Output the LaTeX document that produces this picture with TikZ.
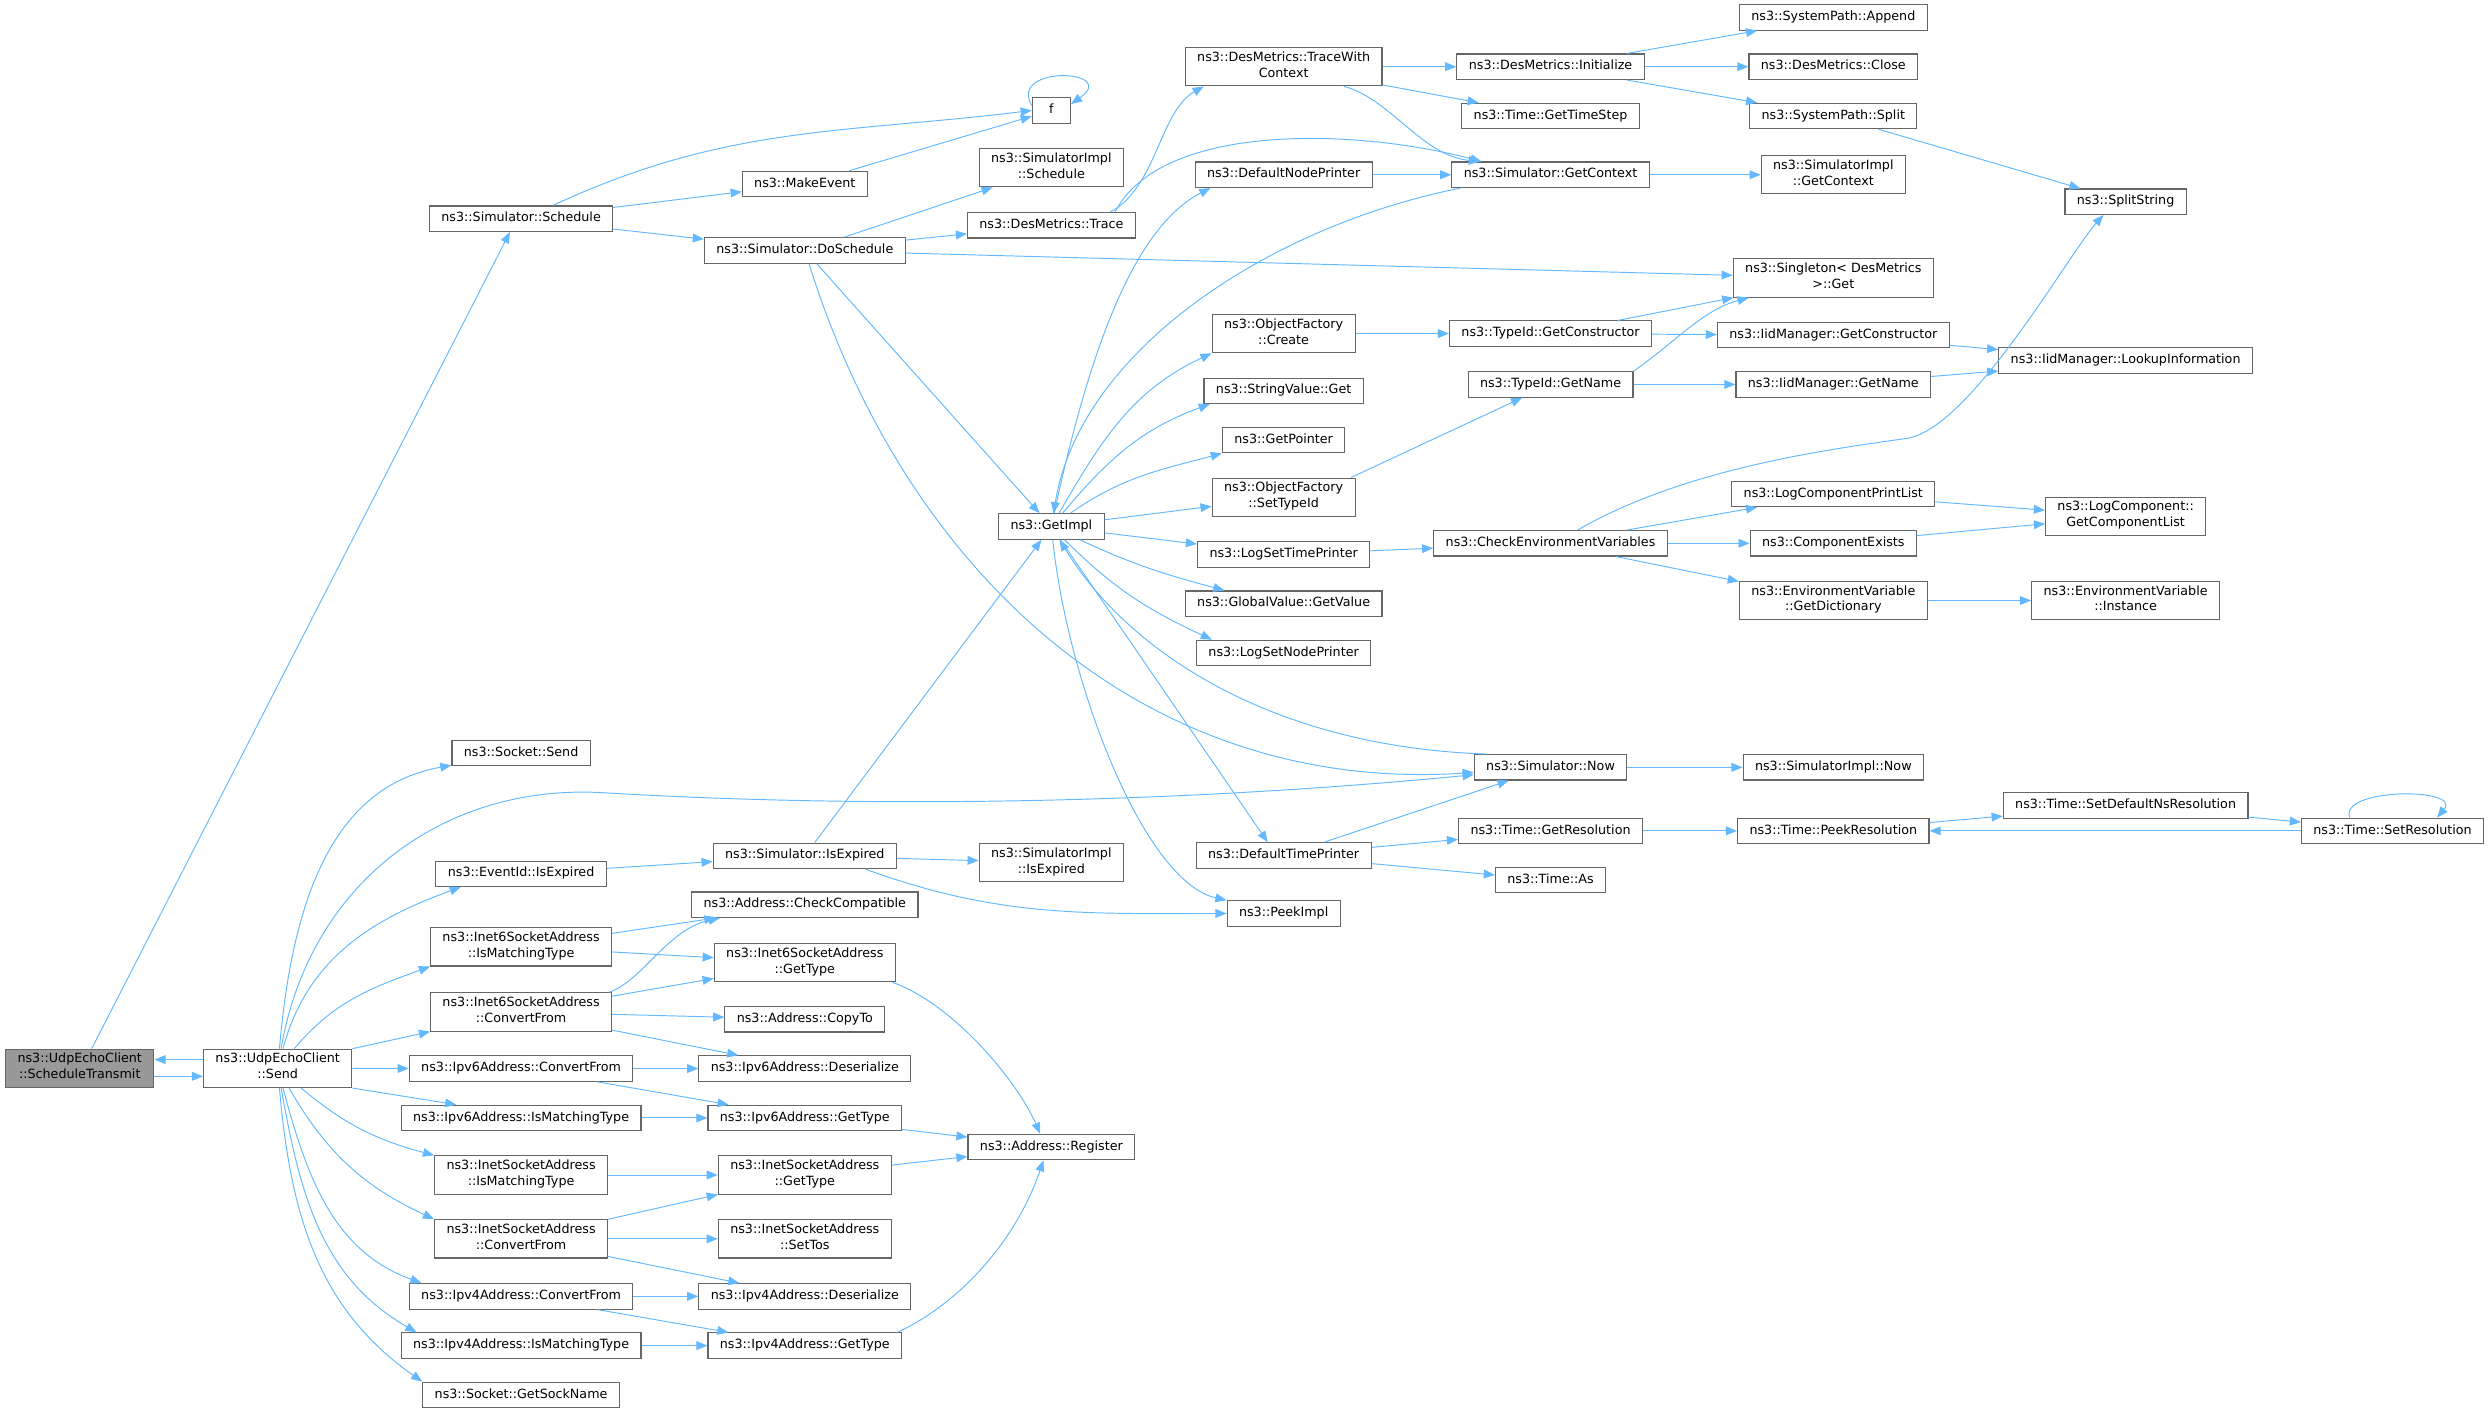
\documentclass[tikz,border=0pt]{standalone}
\usepackage{fontspec}
\setmainfont{DejaVu Sans}
\usetikzlibrary{arrows.meta}
\definecolor{linkblue}{HTML}{63B8FF}
\definecolor{boxgray}{HTML}{666666}
\definecolor{rootgray}{HTML}{999999}
\begin{document}
\begin{tikzpicture}[x=1pt,y=1pt,>={Triangle[length=7pt,width=5.5pt]},
    fn/.style={draw=boxgray,line width=0.7pt,fill=white,font=\fontsize{8}{10}\selectfont,align=center,
      inner xsep=7.5pt,inner ysep=2.5pt,minimum height=16pt,execute at begin node=\strut,execute at end node=\strut},
    root/.style={fn,fill=rootgray},
    call/.style={->,draw=linkblue,line width=0.6pt}]
  \useasboundingbox (0,0) rectangle (1568,-889);

  \node [root] (stx) at (50.2,-672.5) {ns3::UdpEchoClient\\::ScheduleTransmit};
  \node [fn] (send) at (174.8,-672.5) {ns3::UdpEchoClient\\::Send};

  \node [fn] (sched) at (328,-137.7) {ns3::Simulator::Schedule};
  \node [fn] (ssend) at (328,-474) {ns3::Socket::Send};
  \node [fn] (evexp) at (328,-550) {ns3::EventId::IsExpired};
  \node [fn] (i6match) at (328,-596) {ns3::Inet6SocketAddress\\::IsMatchingType};
  \node [fn] (i6conv) at (328,-637) {ns3::Inet6SocketAddress\\::ConvertFrom};
  \node [fn] (v6conv) at (328,-672.6) {ns3::Ipv6Address::ConvertFrom};
  \node [fn] (v6match) at (328,-703.7) {ns3::Ipv6Address::IsMatchingType};
  \node [fn] (i4match) at (328,-739.6) {ns3::InetSocketAddress\\::IsMatchingType};
  \node [fn] (i4conv) at (328,-779.8) {ns3::InetSocketAddress\\::ConvertFrom};
  \node [fn] (v4conv) at (328,-816) {ns3::Ipv4Address::ConvertFrom};
  \node [fn] (v4match) at (328,-847) {ns3::Ipv4Address::IsMatchingType};
  \node [fn] (sockname) at (328,-878) {ns3::Socket::GetSockName};

  \node [fn] (makeev) at (506.6,-115.8) {ns3::MakeEvent};
  \node [fn] (dosched) at (506.6,-157.6) {ns3::Simulator::DoSchedule};
  \node [fn] (simexp) at (506.6,-538.7) {ns3::Simulator::IsExpired};
  \node [fn] (checkc) at (506.6,-569.5) {ns3::Address::CheckCompatible};
  \node [fn] (i6type) at (506.6,-606) {ns3::Inet6SocketAddress\\::GetType};
  \node [fn] (copyto) at (506.6,-641.6) {ns3::Address::CopyTo};
  \node [fn] (v6deser) at (506.6,-672.6) {ns3::Ipv6Address::Deserialize};
  \node [fn] (v6type) at (506.6,-703.7) {ns3::Ipv6Address::GetType};
  \node [fn] (i4type) at (506.6,-739.6) {ns3::InetSocketAddress\\::GetType};
  \node [fn] (settos) at (506.6,-779.8) {ns3::InetSocketAddress\\::SetTos};
  \node [fn] (v4deser) at (506.6,-816) {ns3::Ipv4Address::Deserialize};
  \node [fn] (v4type) at (506.6,-847) {ns3::Ipv4Address::GetType};

  \node [fn,minimum width=24pt] (f) at (661.8,-69.5) {f};
  \node [fn] (implsched) at (661.8,-105.6) {ns3::SimulatorImpl\\::Schedule};
  \node [fn] (trace) at (661.8,-141.8) {ns3::DesMetrics::Trace};
  \node [fn] (getimpl) at (661.8,-331.4) {ns3::GetImpl};
  \node [fn] (implexp) at (661.8,-543) {ns3::SimulatorImpl\\::IsExpired};
  \node [fn] (register) at (661.8,-722) {ns3::Address::Register};

  \node [fn] (twc) at (808,-42) {ns3::DesMetrics::TraceWith\\Context};
  \node [fn] (nodepr) at (808,-110) {ns3::DefaultNodePrinter};
  \node [fn] (create) at (808,-210) {ns3::ObjectFactory\\::Create};
  \node [fn] (strget) at (808,-246) {ns3::StringValue::Get};
  \node [fn] (getptr) at (808,-277) {ns3::GetPointer};
  \node [fn] (settid) at (808,-313) {ns3::ObjectFactory\\::SetTypeId};
  \node [fn] (logtime) at (808,-349) {ns3::LogSetTimePrinter};
  \node [fn] (gvget) at (808,-380) {ns3::GlobalValue::GetValue};
  \node [fn] (lognode) at (808,-411) {ns3::LogSetNodePrinter};
  \node [fn] (timepr) at (808,-538.5) {ns3::DefaultTimePrinter};
  \node [fn] (peekimpl) at (808,-575) {ns3::PeekImpl};

  \node [fn] (init) at (976,-42) {ns3::DesMetrics::Initialize};
  \node [fn] (timestep) at (976,-73) {ns3::Time::GetTimeStep};
  \node [fn] (getctx) at (976,-110) {ns3::Simulator::GetContext};
  \node [fn] (tidctor) at (976,-210) {ns3::TypeId::GetConstructor};
  \node [fn] (tidname) at (976,-242) {ns3::TypeId::GetName};
  \node [fn] (checkenv) at (976,-342) {ns3::CheckEnvironmentVariables};
  \node [fn] (now) at (976,-483) {ns3::Simulator::Now};
  \node [fn] (getres) at (976,-523) {ns3::Time::GetResolution};
  \node [fn] (timeas) at (976,-554) {ns3::Time::As};

  \node [fn] (append) at (1154,-11) {ns3::SystemPath::Append};
  \node [fn] (close) at (1154,-42) {ns3::DesMetrics::Close};
  \node [fn] (split) at (1154,-73) {ns3::SystemPath::Split};
  \node [fn] (implctx) at (1154,-110) {ns3::SimulatorImpl\\::GetContext};
  \node [fn] (singleton) at (1154,-175) {ns3::Singleton< DesMetrics\\>::Get};
  \node [fn] (iidctor) at (1154,-211) {ns3::IidManager::GetConstructor};
  \node [fn] (iidname) at (1154,-242) {ns3::IidManager::GetName};
  \node [fn] (printlist) at (1154,-311) {ns3::LogComponentPrintList};
  \node [fn] (compexists) at (1154,-342) {ns3::ComponentExists};
  \node [fn] (getdict) at (1154,-378) {ns3::EnvironmentVariable\\::GetDictionary};
  \node [fn] (implnow) at (1154,-483) {ns3::SimulatorImpl::Now};
  \node [fn] (peekres) at (1154,-523) {ns3::Time::PeekResolution};

  \node [fn] (splitstr) at (1338,-127) {ns3::SplitString};
  \node [fn] (lookup) at (1338,-227) {ns3::IidManager::LookupInformation};
  \node [fn] (complist) at (1338,-325) {ns3::LogComponent::\\GetComponentList};
  \node [fn] (envinst) at (1338,-378) {ns3::EnvironmentVariable\\::Instance};
  \node [fn] (setdefres) at (1338,-507) {ns3::Time::SetDefaultNsResolution};

  \node [fn] (setres) at (1506,-523) {ns3::Time::SetResolution};

  \draw[call] ([yshift=-5]stx.east) -- ([yshift=-5]send.west);
  \draw[call] ([yshift=5.5]send.west) -- ([yshift=5.5]stx.east);
  \draw[call] ([xshift=7.5]stx.north) -- ([xshift=-7]sched.south);

  \draw[call] ([xshift=20]sched.north) to[out=25,in=187] (f.west);
  \draw[call] (sched) -- (makeev);
  \draw[call] (sched) -- (dosched);
  \draw[call] (makeev) -- (f);
  \draw[call] ([yshift=3]f.west) .. controls +(120:30) and +(35:38) .. ([yshift=4]f.east);
  \draw[call] (dosched) -- (implsched);
  \draw[call] (dosched) -- (trace);
  \draw[call] (dosched) -- (singleton);
  \draw[call] (dosched) -- (getimpl);
  \draw[call] (dosched) .. controls (570,-360) and (720,-500) .. (now);

  \draw[call] ([xshift=-16]trace.north east) .. controls (728,-118) and (730,-70) .. ([xshift=12]twc.south west);
  \draw[call] ([xshift=-13]trace.north east) .. controls (730,-78) and (850,-80) .. ([xshift=19]getctx.north west);
  \draw[call] (twc) -- (init);
  \draw[call] (twc) -- (timestep);
  \draw[call] ([xshift=38]twc.south) .. controls (875,-62) and (895,-98) .. ([xshift=18]getctx.north west);
  \draw[call] (init) -- (append);
  \draw[call] (init) -- (close);
  \draw[call] (init) -- (split);
  \draw[call] (split) -- (splitstr);
  \draw[call] (nodepr) -- (getctx);
  \draw[call] (getctx) -- (implctx);
  \draw[call] ([xshift=6]getctx.south west) .. controls (800,-142) and (680,-220) .. (getimpl);

  \draw[call] (getimpl) .. controls (690,-200) and (720,-140) .. ([xshift=10]nodepr.south west);
  \draw[call] (getimpl) to[out=60,in=205] (create.south west);
  \draw[call] (getimpl) to[out=50,in=200] ([xshift=4]strget.south west);
  \draw[call] (getimpl) to[out=35,in=195] (getptr.south west);
  \draw[call] (getimpl) -- (settid);
  \draw[call] (getimpl) -- (logtime);
  \draw[call] (getimpl) to[out=-25,in=165] ([xshift=25]gvget.north west);
  \draw[call] (getimpl) to[out=-45,in=155] ([xshift=10]lognode.north west);
  \draw[call] (getimpl) -- ([xshift=-10]timepr.north);
  \draw[call] (getimpl) .. controls (672,-430) and (720,-555) .. (peekimpl.north west);

  \draw[call] (create) -- (tidctor);
  \draw[call] ([xshift=-3]settid.north east) -- (tidname);
  \draw[call] (tidctor) -- (singleton);
  \draw[call] (tidctor) -- (iidctor);
  \draw[call] (tidname.north east) .. controls (1055,-215) and (1072,-195) .. ([xshift=10]singleton.south west);
  \draw[call] (tidname) -- (iidname);
  \draw[call] (iidctor) -- (lookup);
  \draw[call] (iidname) -- (lookup);
  \draw[call] (logtime) -- (checkenv);
  \draw[call] ([xshift=17]checkenv.north) .. controls (1060,-295) and (1150,-283) .. (1200,-276)
    .. controls (1240,-270.4) and (1302,-160) .. ([xshift=-14]splitstr.south);
  \draw[call] (checkenv) -- (printlist);
  \draw[call] (checkenv) -- (compexists);
  \draw[call] (checkenv) -- (getdict);
  \draw[call] (printlist) -- (complist);
  \draw[call] (compexists) -- (complist);
  \draw[call] (getdict) -- (envinst);

  \draw[call] ([xshift=8]now.north west) .. controls (800,-470) and (710,-410) .. (getimpl);
  \draw[call] (now) -- (implnow);
  \draw[call] ([xshift=-30]timepr.north east) -- ([xshift=22]now.south west);
  \draw[call] (timepr) -- (getres);
  \draw[call] (timepr) -- (timeas);
  \draw[call] (getres) -- (peekres);
  \draw[call] (peekres) -- (setdefres);
  \draw[call] (setdefres) -- (setres);
  \draw[call] (setres) -- (peekres);
  \draw[call] ([xshift=-27]setres.north) .. controls +(110:20) and +(50:25) .. ([xshift=28]setres.north);

  \draw[call] (send) to[out=85,in=190] (ssend);
  \draw[call] (send) .. controls (195,-555) and (280,-493) .. (380,-499)
    .. controls (600,-512) and (800,-500) .. (now);
  \draw[call] (send) to[out=75,in=200] ([xshift=16]evexp.south west);
  \draw[call] (send) to[out=50,in=200] (i6match.south west);
  \draw[call] (send.north east) -- (i6conv.south west);
  \draw[call] (send) -- (v6conv);
  \draw[call] (send.south east) -- ([xshift=35]v6match.north west);
  \draw[call] (send) to[out=-40,in=165] (i4match.north west);
  \draw[call] (send) to[out=-60,in=155] (i4conv.north west);
  \draw[call] (send) to[out=-75,in=160] ([xshift=8]v4conv.north west);
  \draw[call] (send) to[out=-80,in=150] ([xshift=10]v4match.north west);
  \draw[call] (send) to[out=-85,in=145] (sockname.north west);

  \draw[call] (evexp) -- (simexp);
  \draw[call] (simexp) -- (getimpl);
  \draw[call] (simexp) -- (implexp);
  \draw[call] ([xshift=-20]simexp.south east) to[out=-20,in=180] (peekimpl);
  \draw[call] (i6match) -- (checkc);
  \draw[call] (i6match) -- (i6type);
  \draw[call] ([xshift=-2]i6conv.north east) .. controls (405,-617) and (420,-585) .. ([xshift=18]checkc.south west);
  \draw[call] (i6conv) -- (i6type);
  \draw[call] (i6conv) -- (copyto);
  \draw[call] (i6conv) -- (v6deser);
  \draw[call] (v6conv) -- (v6deser);
  \draw[call] (v6conv) -- (v6type);
  \draw[call] (v6match) -- (v6type);
  \draw[call] ([xshift=-2]i6type.south east) .. controls (600,-632) and (640,-680) .. ([xshift=-7]register.north);
  \draw[call] (v6type) -- (register);
  \draw[call] (i4match) -- (i4type);
  \draw[call] (i4type) -- (register);
  \draw[call] (i4conv) -- (i4type);
  \draw[call] (i4conv) -- (settos);
  \draw[call] (i4conv) -- (v4deser);
  \draw[call] (v4conv) -- (v4deser);
  \draw[call] (v4conv) -- (v4type);
  \draw[call] (v4match) -- (v4type);
  \draw[call] ([xshift=-3]v4type.north east) .. controls (605,-820) and (640,-780) .. ([xshift=-5]register.south);
\end{tikzpicture}
\end{document}
